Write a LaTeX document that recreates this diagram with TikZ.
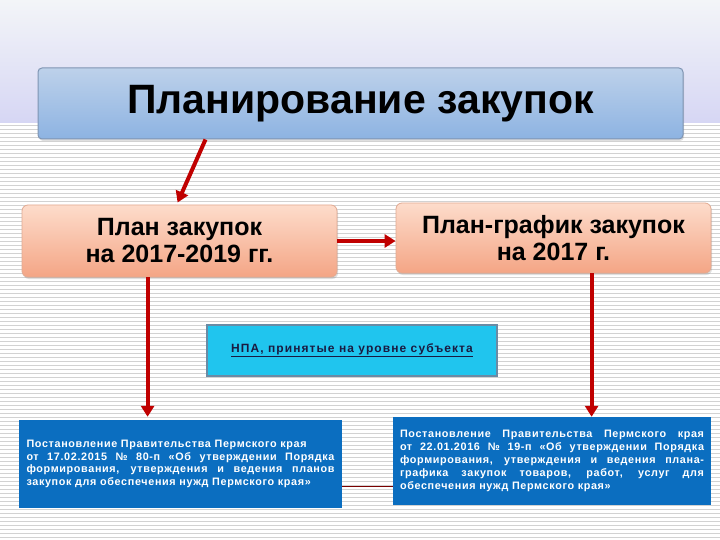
\documentclass[tikz,border=0pt]{standalone}
\usepackage{fontspec}
\setmainfont{Liberation Sans}
\usetikzlibrary{arrows.meta,shadows,calc}
\definecolor{bgtop}{HTML}{F3F5F8}
\definecolor{bglav}{HTML}{D6D6F4}
\definecolor{stripecol}{HTML}{D2D2D2}
\definecolor{titletop}{HTML}{BDD1EA}
\definecolor{titlebot}{HTML}{8DB3E2}
\definecolor{titleborder}{HTML}{7F95B3}
\definecolor{peachtop}{HTML}{FDDCCB}
\definecolor{peachbot}{HTML}{F4A585}
\definecolor{peachborder}{HTML}{E2AA92}
\definecolor{npafill}{HTML}{20C5EE}
\definecolor{npaborder}{HTML}{6A8BA5}
\definecolor{npatext}{HTML}{1A1A40}
\definecolor{docblue}{HTML}{0B6EC0}
\definecolor{arrred}{HTML}{C00000}
\definecolor{connred}{HTML}{7A0000}
\tikzset{
  stripe/.style={draw=stripecol,line width=0.9pt},
  titlebox/.style={rounded corners=4pt,top color=titletop,bottom color=titlebot,draw=titleborder,line width=1pt,
    drop shadow={opacity=0.25,shadow xshift=1pt,shadow yshift=-2pt},
    minimum width=645pt,minimum height=71pt,inner sep=0pt,
    font=\fontsize{41}{48}\selectfont\bfseries},
  planbox/.style={rounded corners=6pt,top color=peachtop,bottom color=peachbot,draw=peachborder,line width=0.8pt,
    drop shadow={opacity=0.25,shadow xshift=1pt,shadow yshift=-2pt},
    minimum width=315pt,inner sep=0pt,align=center,
    font=\fontsize{25}{27}\selectfont\bfseries},
  npabox/.style={fill=npafill,draw=npaborder,line width=2pt,minimum width=290pt,minimum height=51pt,inner sep=0pt,
    text=npatext,font=\fontsize{12}{13}\selectfont\bfseries\addfontfeature{LetterSpace=9}},
  docbox/.style={fill=docblue,text=white,minimum height=88pt,inner sep=0pt,align=left,
    font=\fontsize{10.8}{12.8}\selectfont\bfseries\addfontfeature{LetterSpace=6}},
  redarrow/.style={draw=arrred,line width=4pt,-{Triangle[length=11pt,width=13pt]}},
  conn/.style={draw=connred,line width=1pt}
}
\begin{document}
\begin{tikzpicture}[x=1pt,y=-1pt]
\useasboundingbox (0,0) rectangle (720,540);
% background
\shade[top color=bgtop,bottom color=bglav] (0,0) rectangle (720,123);
\fill[white] (0,123) rectangle (720,540);
\foreach \y in {125,129,...,539} \draw[stripe] (0,\y) -- (720,\y);
% nodes
\node[titlebox] (title) at (360.5,103.5) {Планирование закупок};
\node[planbox,minimum height=72pt] (p1) at (179.5,241) {План закупок\\на 2017-2019 гг.};
\node[planbox,minimum height=70pt] (p2) at (553.5,238) {План-график закупок\\на 2017 г.};
\node[npabox] (npa) at (352,350.5) {\underline{НПА, принятые на уровне субъекта}};
\node[docbox,minimum width=323pt] (bl) at (180.5,464) {%
Постановление Правительства Пермского края\\
\makebox[308pt][s]{от 17.02.2015 № 80-п «Об утверждении Порядка}\\
\makebox[308pt][s]{формирования, утверждения и ведения планов}\\
закупок для обеспечения нужд Пермского края»};
\node[docbox,minimum width=318pt] (br) at (552,461) {%
\makebox[304pt][s]{Постановление Правительства Пермского края}\\
\makebox[304pt][s]{от 22.01.2016 № 19-п «Об утверждении Порядка}\\
\makebox[304pt][s]{формирования, утверждения и ведения плана-}\\
\makebox[304pt][s]{графика закупок товаров, работ, услуг для}\\
обеспечения нужд Пермского края»};
% connectors
\draw[redarrow] ([xshift=168pt]title.south west) -- ([xshift=156pt,yshift=2pt]p1.north west);
\draw[redarrow] (p1.east) -- (p1.east -| p2.west);
\draw[redarrow] ([xshift=126pt]p1.south west) coordinate (a1) -- ([yshift=3pt]a1 |- bl.north);
\draw[redarrow] ([xshift=196pt]p2.south west) coordinate (a2) -- (a2 |- br.north);
\draw[conn] ([yshift=-22pt]bl.east) coordinate (c1) -- (c1 -| br.west);
\end{tikzpicture}
\end{document}
